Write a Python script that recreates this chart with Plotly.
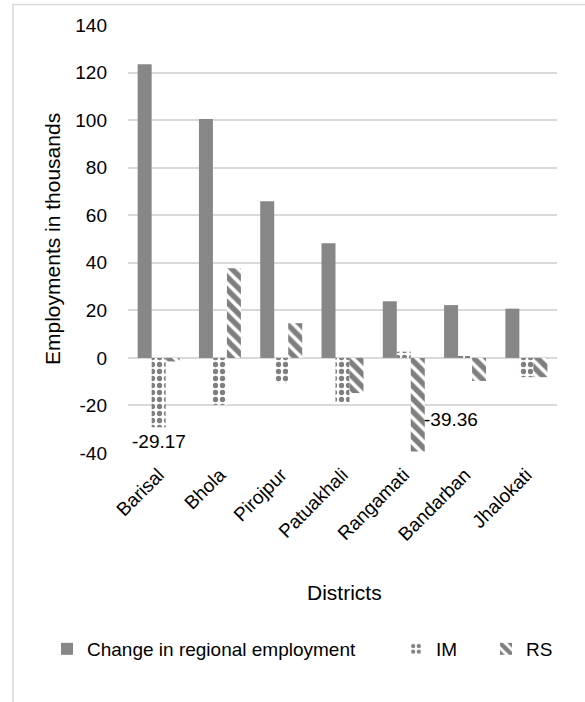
import plotly.graph_objects as go

# District-level decomposition of employment change (thousands)
districts = ["Barisal", "Bhola", "Pirojpur", "Patuakhali", "Rangamati", "Bandarban", "Jhalokati"]
change_regional = [123.5, 100.5, 65.9, 48.2, 23.8, 22.2, 20.7]
im_values = [-29.17, -19.8, -10.6, -18.6, 2.6, 0.8, -8.1]
rs_values = [-1.5, 37.7, 14.6, -14.8, -39.36, -9.7, -8.1]
y_ticks = [-40, -20, 0, 20, 40, 60, 80, 100, 120, 140]

FONT = "Liberation Sans, Arial, sans-serif"
GRID = "#d9d9d9"
TICK_SIZE = 19
TITLE_SIZE = 21

W, H = 585, 702
L, R, T, B = 128, 28, 25, 249
PW, PH = W - L - R, H - T - B


def px_x(x):
    return (x - L) / PW


def px_y(y):
    return (H - B - y) / PH


fig = go.Figure()
fig.add_bar(
    x=districts, y=change_regional, name="Change in regional employment",
    marker=dict(color="#878787", line=dict(width=0)),
    legend="legend", showlegend=True,
)
fig.add_bar(
    x=districts, y=im_values, name="IM",
    marker=dict(color="white", line=dict(width=0),
                pattern=dict(shape=".", fgcolor="black", bgcolor="white",
                             size=7, solidity=0.45, fillmode="overlay")),
    legend="legend2", showlegend=True,
)
fig.add_bar(
    x=districts, y=rs_values, name="RS",
    marker=dict(color="white", line=dict(width=0),
                pattern=dict(shape="\\", fgcolor="black", bgcolor="white",
                             size=9, solidity=0.6, fillmode="overlay")),
    legend="legend3", showlegend=True,
)

# Value labels for the largest negative components
i_b = districts.index("Barisal")
i_r = districts.index("Rangamati")
annotations = [
    dict(x=districts[i_b], y=im_values[i_b], text=f"{im_values[i_b]:.2f}",
         xref="x", yref="y", showarrow=False, xanchor="center", yanchor="top",
         yshift=-2, font=dict(family=FONT, size=TICK_SIZE, color="black")),
    dict(x=districts[i_r], y=rs_values[i_r], text=f"{rs_values[i_r]:.2f}",
         xref="x", yref="y", showarrow=False, xanchor="left", yanchor="middle",
         xshift=18, yshift=32,
         font=dict(family=FONT, size=TICK_SIZE, color="black")),
    dict(x=px_x(52), y=px_y(239), xref="paper", yref="paper",
         xanchor="center", yanchor="middle",
         text="Employments in thousands", textangle=-90, showarrow=False,
         font=dict(family=FONT, size=TITLE_SIZE, color="black")),
    dict(x=px_x(344), y=px_y(592), xref="paper", yref="paper",
         xanchor="center", yanchor="middle",
         text="Districts", showarrow=False,
         font=dict(family=FONT, size=TITLE_SIZE, color="black")),
]

legend_common = dict(orientation="h", yanchor="middle", xanchor="left",
                     y=px_y(649), bgcolor="rgba(0,0,0,0)",
                     font=dict(family=FONT, size=TICK_SIZE, color="black"))

fig.update_layout(
    width=W, height=H,
    margin=dict(l=L, r=R, t=T, b=B),
    paper_bgcolor="white", plot_bgcolor="white",
    barmode="group", bargap=0.315, bargroupgap=0,
    font=dict(family=FONT, size=TICK_SIZE, color="black"),
    showlegend=True,
    legend=dict(x=px_x(47), **legend_common),
    legend2=dict(x=px_x(396), **legend_common),
    legend3=dict(x=px_x(486), **legend_common),
    annotations=annotations,
    shapes=[dict(type="rect", xref="paper", yref="paper",
                 x0=px_x(13), x1=px_x(660), y0=px_y(800), y1=px_y(4.5),
                 line=dict(color=GRID, width=1.5), layer="below")],
)
fig.update_yaxes(
    range=[-40, 140], tickvals=y_ticks, ticktext=[str(v) for v in y_ticks],
    showgrid=True, gridcolor=GRID, gridwidth=1.5,
    zeroline=True, zerolinecolor=GRID, zerolinewidth=1.5, showline=False,
    ticks="", ticklabelstandoff=20, tickfont=dict(family=FONT, size=TICK_SIZE),
)
fig.update_xaxes(
    showgrid=False, showline=False, ticks="", tickangle=-45,
    ticklabelstandoff=6, tickfont=dict(family=FONT, size=TICK_SIZE),
)

fig.write_html("out.html")
